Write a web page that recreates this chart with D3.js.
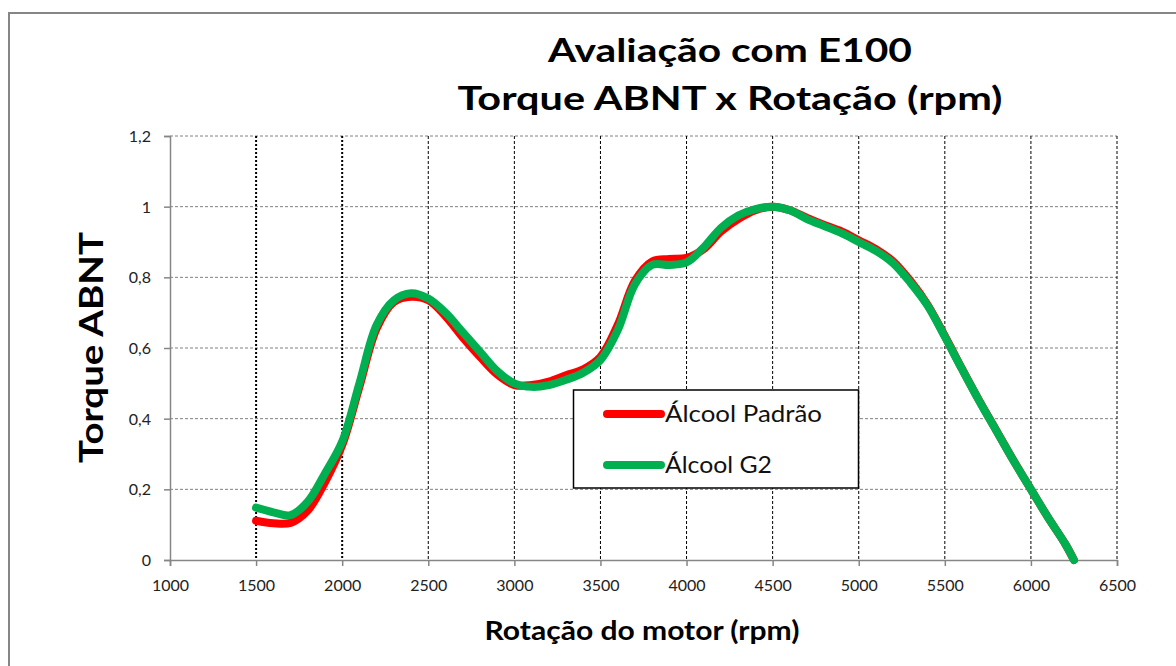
<!DOCTYPE html>
<html>
<head>
<meta charset="utf-8">
<script src="https://cdn.jsdelivr.net/npm/d3@7"></script>
<style>
  html, body { margin: 0; padding: 0; background: #fff; }
  svg { display: block; }
</style>
</head>
<body>
<svg id="chart" width="1176" height="666"></svg>
<script>
// ---- data ----
const titleLines = ["Avaliação com E100", "Torque ABNT x Rotação (rpm)"];
const xLabel = "Rotação do motor (rpm)";
const yLabel = "Torque ABNT";
const seriesNames = ["Álcool Padrão", "Álcool G2"];
const xTicks = [1000, 1500, 2000, 2500, 3000, 3500, 4000, 4500, 5000, 5500, 6000, 6500];
const yTicks = [0, 0.2, 0.4, 0.6, 0.8, 1, 1.2];
const yTickLabels = ["0", "0,2", "0,4", "0,6", "0,8", "1", "1,2"];
const markerLines = [1500, 2000];

const rpm = [1500,1600,1700,1800,1900,2000,2100,2200,2300,2400,2500,2600,2700,2800,2900,3000,
             3100,3200,3300,3400,3500,3600,3700,3800,3900,4000,4100,4200,4300,4400,4500,
             4600,4700,4800,4900,5000,5100,5200,5300,5400,5500,5600,5700,5800,5900,6000,6100,6200,6250];
const padrao = [0.111,0.104,0.105,0.14,0.22,0.325,0.49,0.655,0.73,0.745,0.735,0.69,0.63,0.575,0.525,0.495,
                0.495,0.505,0.523,0.54,0.575,0.665,0.79,0.845,0.852,0.855,0.88,0.93,0.965,0.99,1.0,
                0.99,0.968,0.948,0.93,0.905,0.88,0.845,0.79,0.722,0.634,0.541,0.451,0.366,0.281,0.2,0.12,0.045,0.0];
const g2 = [0.148,0.135,0.127,0.165,0.245,0.335,0.50,0.665,0.735,0.755,0.74,0.70,0.645,0.59,0.535,0.50,
            0.49,0.495,0.51,0.53,0.566,0.65,0.78,0.835,0.835,0.842,0.885,0.94,0.975,0.993,1.0,
            0.99,0.965,0.945,0.925,0.90,0.875,0.84,0.785,0.72,0.632,0.54,0.45,0.365,0.28,0.2,0.12,0.045,0.0];
const seriesColors = ["#FF0000", "#00B050"];

// ---- drawing ----
const svg = d3.select("#chart");
const x = d3.scaleLinear().domain([1000, 6500]).range([170, 1117]);
const y = d3.scaleLinear().domain([0, 1.2]).range([560, 136]);

// outer border (left & top visible)
svg.append("rect").attr("x", 9).attr("y", 13).attr("width", 1200).attr("height", 700)
  .attr("fill", "none").attr("stroke", "#868686").attr("stroke-width", 2);

// horizontal gridlines
svg.append("g").selectAll("line").data(yTicks.filter(d => d > 0)).join("line")
  .attr("x1", x(1000)).attr("x2", x(6500))
  .attr("y1", d => y(d)).attr("y2", d => y(d))
  .attr("stroke", "#808080").attr("stroke-width", 1).attr("stroke-dasharray", "3,2");

// vertical gridlines
svg.append("g").selectAll("line").data(xTicks.filter(d => d > 1000 && !markerLines.includes(d))).join("line")
  .attr("x1", d => x(d)).attr("x2", d => x(d))
  .attr("y1", y(1.2)).attr("y2", y(0))
  .attr("stroke", "#000").attr("stroke-width", 1).attr("stroke-dasharray", "3,2");

// marker lines at 1500 and 2000
svg.append("g").selectAll("line").data(markerLines).join("line")
  .attr("x1", d => x(d)).attr("x2", d => x(d))
  .attr("y1", y(1.2)).attr("y2", y(0))
  .attr("stroke", "#000").attr("stroke-width", 2).attr("stroke-dasharray", "2,2");

// axes
const yAxis = d3.axisLeft(y).tickValues(yTicks).tickFormat((d, i) => yTickLabels[i]).tickSizeOuter(0).tickSize(6).tickPadding(13);
const gy = svg.append("g").attr("transform", `translate(${x(1000)},0)`).call(yAxis);
const xAxis = d3.axisBottom(x).tickValues(xTicks).tickFormat(d => d).tickSizeOuter(0).tickSize(6).tickPadding(14);
const gx = svg.append("g").attr("transform", `translate(0,${y(0)})`).call(xAxis);
[gx, gy].forEach(g => {
  g.select(".domain").attr("stroke", "#868686").attr("stroke-width", 1.5);
  g.selectAll(".tick line").attr("stroke", "#868686").attr("stroke-width", 1.5);
  g.selectAll(".tick text").attr("fill", "#222").attr("font-family", "Lato, sans-serif").attr("font-size", 16);
});
gy.selectAll(".tick text").attr("dy", "0.35em");

// series lines
const line = d3.line().x(d => x(d[0])).y(d => y(d[1])).curve(d3.curveCatmullRom.alpha(0.5));
[padrao, g2].forEach((vals, i) => {
  svg.append("path").datum(rpm.map((r, j) => [r, vals[j]]))
    .attr("d", line).attr("fill", "none")
    .attr("stroke", seriesColors[i]).attr("stroke-width", 8)
    .attr("stroke-linecap", "round").attr("stroke-linejoin", "round");
});

// legend
const lg = svg.append("g");
lg.append("rect").attr("x", 573.5).attr("y", 390).attr("width", 285).attr("height", 98)
  .attr("fill", "#fff").attr("stroke", "#000").attr("stroke-width", 1.5);
const legLens = [157, 107];
seriesNames.forEach((n, i) => {
  const yy = 414 + i * 51;
  lg.append("line").attr("x1", 607).attr("x2", 661).attr("y1", yy).attr("y2", yy)
    .attr("stroke", seriesColors[i]).attr("stroke-width", 8).attr("stroke-linecap", "round");
  lg.append("text").attr("x", 665).attr("y", yy + 8).text(n)
    .attr("font-family", "Lato, sans-serif").attr("font-size", 23).attr("fill", "#111")
    .attr("textLength", legLens[i]).attr("lengthAdjust", "spacingAndGlyphs");
});

// titles
const tLens = [364, 545];
titleLines.forEach((t, i) => {
  svg.append("text").attr("x", 730).attr("y", 62 + i * 48).attr("text-anchor", "middle")
    .attr("font-family", "Lato, sans-serif").attr("font-weight", "bold").attr("font-size", 33)
    .attr("fill", "#000").text(t)
    .attr("textLength", tLens[i]).attr("lengthAdjust", "spacingAndGlyphs");
});

// axis labels
svg.append("text").attr("x", 642).attr("y", 640).attr("text-anchor", "middle")
  .attr("font-family", "Lato, sans-serif").attr("font-weight", "bold").attr("font-size", 27)
  .attr("fill", "#000").text(xLabel)
  .attr("textLength", 315).attr("lengthAdjust", "spacingAndGlyphs");
svg.append("text").attr("transform", "translate(103,347.5) rotate(-90)").attr("text-anchor", "middle")
  .attr("font-family", "Lato, sans-serif").attr("font-weight", "bold").attr("font-size", 32)
  .attr("fill", "#000").text(yLabel)
  .attr("textLength", 231).attr("lengthAdjust", "spacingAndGlyphs");
</script>
</body>
</html>
